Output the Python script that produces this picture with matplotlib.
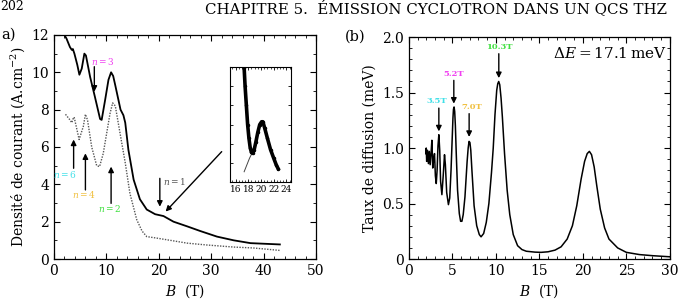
import numpy as np
import matplotlib
matplotlib.use("Agg")
import matplotlib.pyplot as plt
from matplotlib.ticker import MultipleLocator

plt.rcParams['font.family'] = ['DejaVu Serif']
plt.rcParams['mathtext.fontset'] = 'dejavuserif'

# panel a) current density vs B
b_solid = [2.0, 2.4, 3.05, 3.4, 3.6, 3.9, 4.45, 4.85, 5.3, 5.8, 6.1, 6.9, 7.8, 8.8, 9.1,
           9.75, 10.4, 10.9, 11.3, 11.7, 12.7, 13.25, 13.6, 14.2, 15.2, 16.4, 17.7, 19.3,
           20.9, 22.8, 25.4, 27.9, 31.1, 34.3, 37.5, 43.1]
j_solid = [12.0, 11.8, 11.35, 11.2, 11.25, 11.0, 10.4, 9.87, 10.2, 11.0, 10.9, 9.75, 8.7, 7.5, 7.45,
           8.5, 9.6, 10.0, 9.8, 9.3, 8.0, 7.7, 7.3, 5.85, 4.25, 3.2, 2.65, 2.4,
           2.3, 2.0, 1.75, 1.5, 1.2, 1.0, 0.85, 0.78]
b_dot = [2.2, 3.05, 3.4, 3.7, 3.85, 4.8, 5.6, 6.0, 6.4, 7.2, 8.15, 8.7, 9.4, 10.7, 11.2,
         11.7, 12.6, 13.6, 14.5, 15.8, 16.8, 17.7, 19.6, 22.2, 25.4, 29.2, 34.3, 38.1, 43.1]
j_dot = [7.75, 7.45, 7.3, 7.55, 7.6, 6.4, 7.1, 7.75, 7.45, 6.0, 5.0, 4.95, 5.65, 7.8, 8.36,
         8.2, 6.75, 5.15, 3.5, 2.1, 1.5, 1.2, 1.12, 1.0, 0.85, 0.75, 0.64, 0.59, 0.46]

# inset (n = 1 region)
b_ins = [17.35, 17.5, 17.7, 17.9, 18.1, 18.3, 18.5, 18.7, 18.9, 19.2, 19.5, 19.8, 20.1,
         20.3, 20.6, 21.0, 21.5, 22.0, 22.4, 22.7]
j_ins = [5.96, 5.0, 4.0, 3.0, 2.3, 1.8, 1.55, 1.5, 1.65, 2.1, 2.6, 3.0, 3.15,
         3.15, 2.8, 2.3, 1.7, 1.25, 0.9, 0.7]
b_fit = [17.35, 17.6, 17.9, 18.2, 18.5, 18.7]
j_fit = [0.54, 0.75, 1.0, 1.25, 1.45, 1.5]

# panel (b) scattering rate vs B
b_rate = [1.95, 2.0, 2.05, 2.15, 2.25, 2.35, 2.45, 2.55, 2.65, 2.75, 2.85, 2.95, 3.05, 3.15,
          3.25, 3.35, 3.45, 3.55, 3.65, 3.8, 3.95, 4.1, 4.2, 4.35, 4.55, 4.7, 4.85, 5.0,
          5.07, 5.13, 5.2, 5.27, 5.35, 5.45, 5.6, 5.8, 5.95, 6.1, 6.25, 6.45, 6.7, 6.82,
          6.92, 7.02, 7.12, 7.25, 7.5, 7.8, 8.1, 8.3, 8.6, 8.9, 9.2, 9.5, 9.7, 9.9, 10.1,
          10.22, 10.33, 10.45, 10.6, 10.75, 11.0, 11.3, 11.6, 12.0, 12.5, 13.0, 13.5, 14.5,
          15.2, 16.0, 16.8, 17.5, 18.2, 18.8, 19.3, 19.8, 20.2, 20.5, 20.75, 21.0, 21.3,
          21.6, 22.0, 22.5, 23.0, 24.0, 25.0, 26.5, 28.0, 30.0]
g_rate = [0.95, 1.0, 0.88, 0.98, 0.86, 0.97, 0.85, 0.95, 1.07, 0.82, 0.90, 0.95, 0.75, 0.68,
          0.80, 1.02, 1.12, 0.98, 0.70, 0.58, 0.75, 0.94, 0.85, 0.60, 0.49, 0.55, 0.80, 1.12,
          1.27, 1.35, 1.37, 1.33, 1.20, 0.95, 0.62, 0.41, 0.34, 0.34, 0.40, 0.56, 0.88, 1.0,
          1.06, 1.05, 0.98, 0.80, 0.48, 0.30, 0.22, 0.20, 0.23, 0.33, 0.50, 0.78, 1.0, 1.3, 1.52,
          1.58, 1.60, 1.57, 1.45, 1.28, 0.95, 0.62, 0.40, 0.22, 0.12, 0.085, 0.07, 0.062,
          0.06, 0.065, 0.08, 0.11, 0.18, 0.30, 0.48, 0.72, 0.88, 0.95, 0.97, 0.94, 0.83,
          0.66, 0.45, 0.28, 0.18, 0.10, 0.06, 0.04, 0.03, 0.02]

peak_labels = ['3.5T', '5.2T', '7.0T', '10.3T']
peak_b = [3.45, 5.17, 6.93, 10.34]
peak_tip = [1.15, 1.40, 1.10, 1.63]
peak_colors = ['#40e0e8', '#f040f0', '#f0c040', '#40e040']

n_labels = ['$n=6$', '$n=4$', '$n=2$', '$n=3$', '$n=1$']
n_colors = ['#40e0e8', '#f0c040', '#40e040', '#f040f0', '#555555']

fig = plt.figure(figsize=(6.78, 3.04), dpi=100)

# page header (top of the scanned page)
fig.text(0.0, 0.999, '202', fontsize=9, va='top', ha='left')
fig.text(0.302, 0.999, 'CHAPITRE 5.  ÉMISSION CYCLOTRON DANS UN QCS THZ',
         fontsize=10.8, va='top', ha='left')


def style_axis(ax):
    ax.tick_params(which='both', direction='in', top=True, right=True, labelsize=10)
    ax.tick_params(which='major', length=4, width=0.8)
    ax.tick_params(which='minor', length=2, width=0.6)
    for s in ax.spines.values():
        s.set_linewidth(0.9)


arrow = dict(arrowstyle='-|>', color='black', lw=1.0, mutation_scale=8, shrinkA=0, shrinkB=0)

# ---- panel a)
ax1 = fig.add_axes([0.0796, 0.148, 0.3865, 0.737])
ax1.plot(b_solid, j_solid, color='black', lw=1.3)
ax1.plot(b_dot, j_dot, color='#555555', lw=1.0, ls=(0, (1, 1)))
ax1.set_xlim(0, 50)
ax1.set_ylim(0, 12)
ax1.xaxis.set_major_locator(MultipleLocator(10))
ax1.xaxis.set_minor_locator(MultipleLocator(2))
ax1.yaxis.set_major_locator(MultipleLocator(2))
ax1.yaxis.set_minor_locator(MultipleLocator(1))
style_axis(ax1)
ax1.set_xlabel('$B$  (T)', fontsize=10, labelpad=3)
ax1.set_ylabel('Densité de courant (A.cm$^{-2}$)', fontsize=10, labelpad=3)

# arrows and labels
ax1.annotate('', xy=(3.75, 6.4), xytext=(3.75, 4.86), arrowprops=arrow)
ax1.text(2.1, 4.54, n_labels[0], color=n_colors[0], fontsize=6.5, ha='center', va='center')
ax1.annotate('', xy=(6.0, 5.66), xytext=(6.0, 3.7), arrowprops=arrow)
ax1.text(5.8, 3.43, n_labels[1], color=n_colors[1], fontsize=6.5, ha='center', va='center')
ax1.annotate('', xy=(10.9, 4.95), xytext=(10.9, 2.98), arrowprops=arrow)
ax1.text(10.7, 2.72, n_labels[2], color=n_colors[2], fontsize=6.5, ha='center', va='center')
ax1.annotate('', xy=(7.7, 8.96), xytext=(7.7, 10.3), arrowprops=arrow)
ax1.text(9.3, 10.6, n_labels[3], color=n_colors[3], fontsize=6.5, ha='center', va='center')
ax1.annotate('', xy=(20.2, 2.8), xytext=(20.2, 4.32), arrowprops=arrow)
ax1.text(20.8, 4.14, n_labels[4], color=n_colors[4], fontsize=6.5, ha='left', va='center')
ax1.annotate('', xy=(21.3, 2.54), xytext=(32.0, 5.75), arrowprops=arrow)
fig.text(0.002, 0.885, 'a)', fontsize=10.5, ha='left', va='center')

# inset
axi = fig.add_axes([0.339, 0.401, 0.090, 0.378])
axi.plot(b_fit, j_fit, color='#444444', lw=0.7)
axi.plot(b_ins, j_ins, color='black', lw=2.6, marker='o', ms=1.5)
axi.set_xlim(15.1, 24.7)
axi.set_ylim(0, 6)
axi.set_xticks([16, 18, 20, 22, 24])
axi.xaxis.set_minor_locator(MultipleLocator(0.5))
axi.set_yticks([1, 2, 3, 4, 5])
axi.set_yticklabels([])
axi.tick_params(which='both', direction='in', top=True, right=True, labelsize=6.5, pad=2)
axi.tick_params(which='major', length=2.5, width=0.6)
axi.tick_params(which='minor', length=1.5, width=0.5)
for s in axi.spines.values():
    s.set_linewidth(0.8)

# ---- panel (b)
ax2 = fig.add_axes([0.603, 0.148, 0.385, 0.73])
ax2.plot(b_rate, g_rate, color='black', lw=1.1)
ax2.set_xlim(0, 30)
ax2.set_ylim(0, 2.0)
ax2.xaxis.set_major_locator(MultipleLocator(5))
ax2.xaxis.set_minor_locator(MultipleLocator(1))
ax2.yaxis.set_major_locator(MultipleLocator(0.5))
ax2.yaxis.set_minor_locator(MultipleLocator(0.1))
ax2.set_yticks([0, 0.5, 1.0, 1.5, 2.0])
ax2.set_yticklabels(['0', '0.5', '1.0', '1.5', '2.0'])
style_axis(ax2)
ax2.set_xlabel('$B$  (T)', fontsize=10, labelpad=3)
ax2.set_ylabel('Taux de diffusion (meV)', fontsize=10, labelpad=4)
ax2.text(29.6, 1.85, r'$\Delta E = 17.1\,\mathrm{meV}$', fontsize=11, ha='right', va='center')

label_y = [1.42, 1.67, 1.37, 1.91]
label_x = [3.2, 5.17, 7.2, 10.34]
for lab, bx, tip, col, lx, ly in zip(peak_labels, peak_b, peak_tip, peak_colors, label_x, label_y):
    ax2.annotate('', xy=(bx, tip), xytext=(bx, ly - 0.06), arrowprops=arrow)
    ax2.text(lx, ly, lab, color=col, fontsize=6, fontweight='bold', ha='center', va='center')

fig.text(0.509, 0.878, '(b)', fontsize=10.5, ha='left', va='center')

fig.savefig('out.png', dpi=100)
